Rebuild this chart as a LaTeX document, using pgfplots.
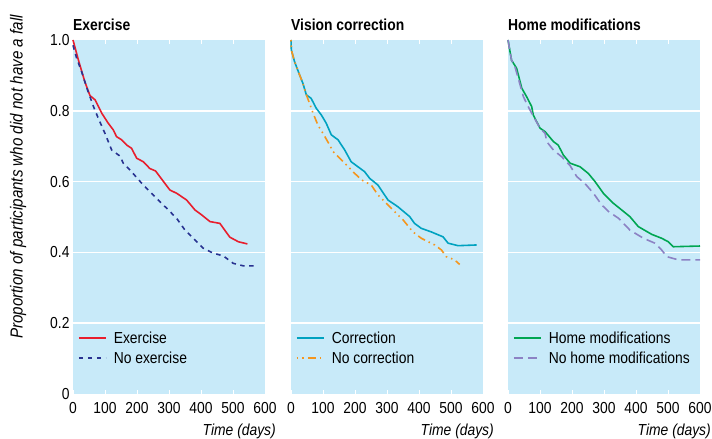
\documentclass[border=0pt]{standalone}
\usepackage{fontspec}
\setmainfont{Liberation Sans}[FakeStretch=0.87]
\usepackage{pgfplots}
\pgfplotsset{compat=1.18}
\definecolor{bgblue}{RGB}{200,234,249}
\definecolor{cred}{RGB}{232,30,45}
\definecolor{cnavy}{RGB}{40,50,145}
\definecolor{cteal}{RGB}{0,162,192}
\definecolor{corange}{RGB}{245,150,30}
\definecolor{cgreen}{RGB}{0,166,82}
\definecolor{cpurple}{RGB}{140,130,196}
\newcommand{\fs}{\fontsize{16}{19}\selectfont}
\pgfplotsset{
  panel/.style={
    scale only axis, width=192bp, height=354bp,
    xmin=0, xmax=600, ymin=0, ymax=1,
    axis line style={draw=none},
    axis background/.style={fill=bgblue},
    xtick={0,100,...,600},
    major tick length=4bp,
    tick align=inside,
    xtick style={white, line width=1pt},
    ytick={0.2,0.4,0.6,0.8},
    ytick style={draw=none},
    ymajorgrids, grid style={white, line width=1.6pt},
    extra y ticks={0,1}, extra y tick style={grid=none},
    /pgf/number format/assume math mode=true,
    /pgf/number format/fixed, /pgf/number format/precision=1,
    tick label style={font=\fs},
    xticklabel style={yshift=-5bp},
    title style={at={(0,1)}, anchor=base west, inner sep=0pt, yshift=4bp, font=\fs\bfseries},
    legend style={draw=none, fill=none, font=\fs, at={(0,0)}, anchor=south west, xshift=2bp, yshift=25bp, row sep=3bp},
    legend cell align=left,
    legend image code/.code={\draw[##1] (0bp,0bp) -- (27bp,0bp); \path (32bp,0bp);},
    clip=false,
  },
}
\begin{document}
\begin{tikzpicture}
\path[use as bounding box] (0bp,0bp) rectangle (712bp,439bp);
% Panel 1
\begin{axis}[panel, at={(73bp,45bp)}, anchor=south west, title={Exercise},
  extra y tick labels={0,1.0}]
\addplot[cred, line width=1.6pt, line join=round] coordinates {
(0,1.0)(17,0.943)(37,0.882)(53,0.843)(69,0.831)(90,0.793)(110,0.765)(126,0.746)(136,0.727)(152,0.718)(168,0.703)(183,0.694)(199,0.666)(220,0.656)(240,0.637)(258,0.630)(287,0.595)(303,0.576)(324,0.567)(355,0.548)(381,0.520)(402,0.506)(428,0.487)(459,0.482)(490,0.443)(517,0.430)(545,0.424)};
\addlegendentry{Exercise}
\addplot[cnavy, line width=1.6pt, dash pattern=on 4.5bp off 4.5bp] coordinates {
(0,0.985)(11,0.95)(27,0.91)(45,0.86)(64,0.812)(79,0.779)(100,0.736)(121,0.689)(147,0.672)(157,0.652)(178,0.633)(215,0.595)(240,0.572)(272,0.543)(298,0.520)(324,0.496)(350,0.463)(376,0.440)(407,0.412)(438,0.398)(470,0.390)(501,0.369)(532,0.362)(574,0.362)};
\addlegendentry{No exercise}
\end{axis}
% Panel 2
\begin{axis}[panel, at={(291bp,45bp)}, anchor=south west, title={Vision correction},
  yticklabels={}, extra y tick labels={}]
\addplot[cteal, line width=1.6pt, line join=round] coordinates {
(0,1.0)(1,0.972)(11,0.939)(27,0.901)(37,0.878)(48,0.845)(63,0.835)(79,0.807)(95,0.788)(110,0.765)(126,0.732)(147,0.718)(168,0.689)(188,0.656)(209,0.642)(230,0.628)(246,0.609)(272,0.590)(303,0.548)(334,0.529)(371,0.501)(386,0.482)(407,0.468)(438,0.458)(475,0.444)(491,0.426)(522,0.419)(580,0.421)};
\addlegendentry{Correction}
\addplot[corange, line width=1.6pt, dash pattern=on 1.5bp off 4bp on 1.5bp off 4bp on 8bp off 4bp] coordinates {
(0,1.0)(1,0.972)(11,0.939)(27,0.901)(37,0.878)(48,0.845)(58,0.821)(69,0.793)(84,0.760)(100,0.736)(121,0.703)(131,0.685)(142,0.675)(168,0.652)(197,0.625)(220,0.605)(251,0.590)(272,0.562)(303,0.534)(324,0.515)(350,0.492)(381,0.458)(407,0.440)(449,0.421)(470,0.407)(485,0.388)(511,0.379)(527,0.366)};
\addlegendentry{No correction}
\end{axis}
% Panel 3
\begin{axis}[panel, at={(508bp,45bp)}, anchor=south west, title={Home modifications},
  yticklabels={}, extra y tick labels={}]
\addplot[cgreen, line width=1.6pt, line join=round] coordinates {
(0,1.0)(11,0.943)(27,0.920)(43,0.864)(58,0.840)(74,0.812)(79,0.788)(100,0.751)(116,0.741)(142,0.713)(157,0.703)(173,0.675)(194,0.652)(225,0.642)(251,0.623)(272,0.600)(298,0.567)(329,0.539)(355,0.520)(381,0.501)(407,0.473)(449,0.451)(480,0.440)(501,0.430)(516,0.416)(600,0.418)};
\addlegendentry{Home modifications}
\addplot[cpurple, line width=1.6pt, dash pattern=on 9bp off 5bp] coordinates {
(0,1.0)(11,0.943)(20,0.93)(32,0.892)(48,0.840)(63,0.812)(79,0.785)(100,0.751)(116,0.736)(121,0.713)(142,0.689)(168,0.670)(194,0.645)(215,0.614)(240,0.595)(267,0.567)(293,0.534)(315,0.515)(346,0.496)(381,0.463)(423,0.440)(459,0.426)(480,0.407)(496,0.388)(532,0.379)(600,0.379)};
\addlegendentry{No home modifications}
\end{axis}
\node[rotate=90, font=\fontsize{17.5}{20}\selectfont\itshape, inner sep=0pt] at (18bp,262bp) {Proportion of participants who did not have a fall};
\node[anchor=base east, font=\fs\itshape, inner sep=0pt] at (276bp,3.5bp) {Time (days)};
\node[anchor=base east, font=\fs\itshape, inner sep=0pt] at (494bp,3.5bp) {Time (days)};
\node[anchor=base east, font=\fs\itshape, inner sep=0pt] at (711bp,3.5bp) {Time (days)};
\end{tikzpicture}
\end{document}
